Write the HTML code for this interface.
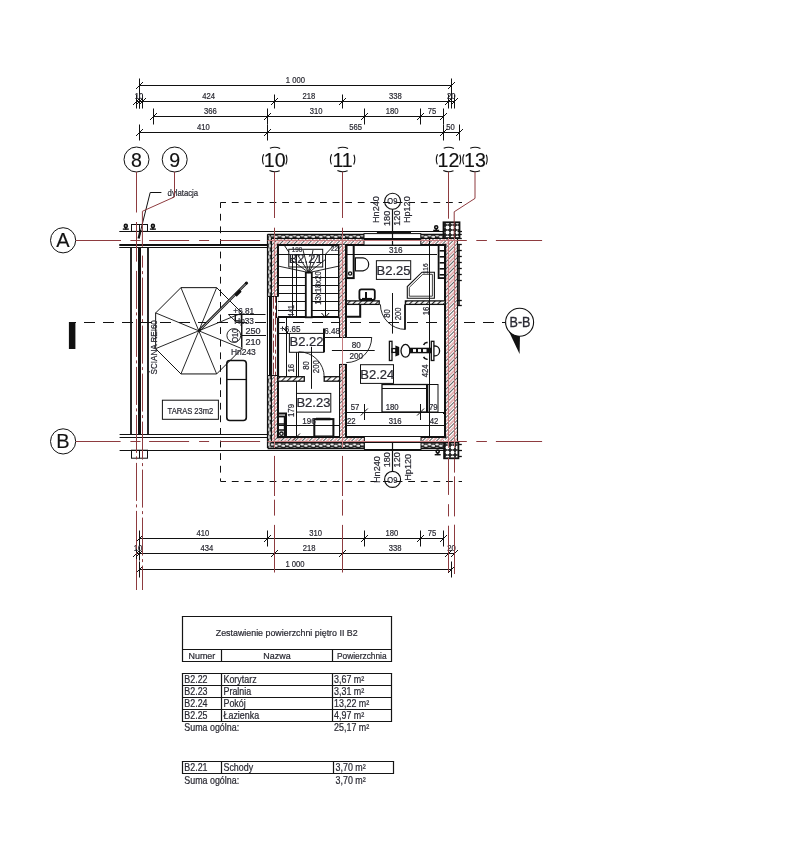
<!DOCTYPE html>
<html><head><meta charset="utf-8"><style>
html,body{margin:0;padding:0;background:#fff;width:804px;height:858px;overflow:hidden}
svg{display:block;font-family:"Liberation Sans",sans-serif;will-change:transform}
</style></head><body>
<svg width="804" height="858" viewBox="0 0 804 858">
<line x1="139.5" y1="85.5" x2="451.5" y2="85.5" stroke="#111" stroke-width="1" />
<line x1="139.5" y1="78.5" x2="139.5" y2="108.5" stroke="#111" stroke-width="1" />
<line x1="136.0" y1="89.0" x2="143.0" y2="82.0" stroke="#111" stroke-width="1" />
<line x1="451.5" y1="78.5" x2="451.5" y2="108.5" stroke="#111" stroke-width="1" />
<line x1="448.0" y1="89.0" x2="455.0" y2="82.0" stroke="#111" stroke-width="1" />
<text x="0" y="0" font-size="9" text-anchor="middle" fill="#2a2a33" stroke="#2a2a33" stroke-width="0.22" transform="translate(295.4 83.1) scale(0.85 1)" >1 000</text>
<line x1="136.5" y1="101.5" x2="454.5" y2="101.5" stroke="#111" stroke-width="1" />
<line x1="136.5" y1="94.5" x2="136.5" y2="108.5" stroke="#111" stroke-width="1" />
<line x1="133.0" y1="105.0" x2="140.0" y2="98.0" stroke="#111" stroke-width="1" />
<line x1="139.5" y1="94.5" x2="139.5" y2="108.5" stroke="#111" stroke-width="1" />
<line x1="136.0" y1="105.0" x2="143.0" y2="98.0" stroke="#111" stroke-width="1" />
<line x1="142.5" y1="94.5" x2="142.5" y2="108.5" stroke="#111" stroke-width="1" />
<line x1="139.0" y1="105.0" x2="146.0" y2="98.0" stroke="#111" stroke-width="1" />
<line x1="274.5" y1="94.5" x2="274.5" y2="108.5" stroke="#111" stroke-width="1" />
<line x1="271.0" y1="105.0" x2="278.0" y2="98.0" stroke="#111" stroke-width="1" />
<line x1="342.5" y1="94.5" x2="342.5" y2="108.5" stroke="#111" stroke-width="1" />
<line x1="339.0" y1="105.0" x2="346.0" y2="98.0" stroke="#111" stroke-width="1" />
<line x1="448.5" y1="94.5" x2="448.5" y2="108.5" stroke="#111" stroke-width="1" />
<line x1="445.0" y1="105.0" x2="452.0" y2="98.0" stroke="#111" stroke-width="1" />
<line x1="454.5" y1="94.5" x2="454.5" y2="108.5" stroke="#111" stroke-width="1" />
<line x1="451.0" y1="105.0" x2="458.0" y2="98.0" stroke="#111" stroke-width="1" />
<text x="0" y="0" font-size="9" text-anchor="middle" fill="#2a2a33" stroke="#2a2a33" stroke-width="0.22" transform="translate(139 99.1) scale(0.85 1)" >10</text>
<text x="0" y="0" font-size="9" text-anchor="middle" fill="#2a2a33" stroke="#2a2a33" stroke-width="0.22" transform="translate(208.6 99.1) scale(0.85 1)" >424</text>
<text x="0" y="0" font-size="9" text-anchor="middle" fill="#2a2a33" stroke="#2a2a33" stroke-width="0.22" transform="translate(308.9 99.1) scale(0.85 1)" >218</text>
<text x="0" y="0" font-size="9" text-anchor="middle" fill="#2a2a33" stroke="#2a2a33" stroke-width="0.22" transform="translate(395.3 99.1) scale(0.85 1)" >338</text>
<text x="0" y="0" font-size="9" text-anchor="middle" fill="#2a2a33" stroke="#2a2a33" stroke-width="0.22" transform="translate(451.3 99.1) scale(0.85 1)" >20</text>
<line x1="153.5" y1="116.5" x2="443.5" y2="116.5" stroke="#111" stroke-width="1" />
<line x1="153.5" y1="108.5" x2="153.5" y2="124.5" stroke="#111" stroke-width="1" />
<line x1="150.0" y1="120.0" x2="157.0" y2="113.0" stroke="#111" stroke-width="1" />
<line x1="267.5" y1="108.5" x2="267.5" y2="124.5" stroke="#111" stroke-width="1" />
<line x1="264.0" y1="120.0" x2="271.0" y2="113.0" stroke="#111" stroke-width="1" />
<line x1="364.5" y1="108.5" x2="364.5" y2="124.5" stroke="#111" stroke-width="1" />
<line x1="361.0" y1="120.0" x2="368.0" y2="113.0" stroke="#111" stroke-width="1" />
<line x1="420.5" y1="108.5" x2="420.5" y2="124.5" stroke="#111" stroke-width="1" />
<line x1="417.0" y1="120.0" x2="424.0" y2="113.0" stroke="#111" stroke-width="1" />
<line x1="443.5" y1="108.5" x2="443.5" y2="124.5" stroke="#111" stroke-width="1" />
<line x1="440.0" y1="120.0" x2="447.0" y2="113.0" stroke="#111" stroke-width="1" />
<text x="0" y="0" font-size="9" text-anchor="middle" fill="#2a2a33" stroke="#2a2a33" stroke-width="0.22" transform="translate(210.4 114.1) scale(0.85 1)" >366</text>
<text x="0" y="0" font-size="9" text-anchor="middle" fill="#2a2a33" stroke="#2a2a33" stroke-width="0.22" transform="translate(316 114.1) scale(0.85 1)" >310</text>
<text x="0" y="0" font-size="9" text-anchor="middle" fill="#2a2a33" stroke="#2a2a33" stroke-width="0.22" transform="translate(392 114.1) scale(0.85 1)" >180</text>
<text x="0" y="0" font-size="9" text-anchor="middle" fill="#2a2a33" stroke="#2a2a33" stroke-width="0.22" transform="translate(432 114.1) scale(0.85 1)" >75</text>
<line x1="139.5" y1="132.5" x2="459.5" y2="132.5" stroke="#111" stroke-width="1" />
<line x1="139.5" y1="124.5" x2="139.5" y2="140.5" stroke="#111" stroke-width="1" />
<line x1="136.0" y1="136.0" x2="143.0" y2="129.0" stroke="#111" stroke-width="1" />
<line x1="267.5" y1="124.5" x2="267.5" y2="140.5" stroke="#111" stroke-width="1" />
<line x1="264.0" y1="136.0" x2="271.0" y2="129.0" stroke="#111" stroke-width="1" />
<line x1="443.5" y1="124.5" x2="443.5" y2="140.5" stroke="#111" stroke-width="1" />
<line x1="440.0" y1="136.0" x2="447.0" y2="129.0" stroke="#111" stroke-width="1" />
<line x1="459.5" y1="124.5" x2="459.5" y2="140.5" stroke="#111" stroke-width="1" />
<line x1="456.0" y1="136.0" x2="463.0" y2="129.0" stroke="#111" stroke-width="1" />
<text x="0" y="0" font-size="9" text-anchor="middle" fill="#2a2a33" stroke="#2a2a33" stroke-width="0.22" transform="translate(203.4 130.1) scale(0.85 1)" >410</text>
<text x="0" y="0" font-size="9" text-anchor="middle" fill="#2a2a33" stroke="#2a2a33" stroke-width="0.22" transform="translate(355.5 130.1) scale(0.85 1)" >565</text>
<text x="0" y="0" font-size="9" text-anchor="middle" fill="#2a2a33" stroke="#2a2a33" stroke-width="0.22" transform="translate(450.4 130.1) scale(0.85 1)" >50</text>
<line x1="139.5" y1="538.5" x2="443.5" y2="538.5" stroke="#111" stroke-width="1" />
<line x1="139.5" y1="530.5" x2="139.5" y2="546.5" stroke="#111" stroke-width="1" />
<line x1="136.0" y1="542.0" x2="143.0" y2="535.0" stroke="#111" stroke-width="1" />
<line x1="267.5" y1="530.5" x2="267.5" y2="546.5" stroke="#111" stroke-width="1" />
<line x1="264.0" y1="542.0" x2="271.0" y2="535.0" stroke="#111" stroke-width="1" />
<line x1="364.5" y1="530.5" x2="364.5" y2="546.5" stroke="#111" stroke-width="1" />
<line x1="361.0" y1="542.0" x2="368.0" y2="535.0" stroke="#111" stroke-width="1" />
<line x1="420.5" y1="530.5" x2="420.5" y2="546.5" stroke="#111" stroke-width="1" />
<line x1="417.0" y1="542.0" x2="424.0" y2="535.0" stroke="#111" stroke-width="1" />
<line x1="443.5" y1="530.5" x2="443.5" y2="546.5" stroke="#111" stroke-width="1" />
<line x1="440.0" y1="542.0" x2="447.0" y2="535.0" stroke="#111" stroke-width="1" />
<text x="0" y="0" font-size="9" text-anchor="middle" fill="#2a2a33" stroke="#2a2a33" stroke-width="0.22" transform="translate(202.8 536.1) scale(0.85 1)" >410</text>
<text x="0" y="0" font-size="9" text-anchor="middle" fill="#2a2a33" stroke="#2a2a33" stroke-width="0.22" transform="translate(315.7 536.1) scale(0.85 1)" >310</text>
<text x="0" y="0" font-size="9" text-anchor="middle" fill="#2a2a33" stroke="#2a2a33" stroke-width="0.22" transform="translate(391.8 536.1) scale(0.85 1)" >180</text>
<text x="0" y="0" font-size="9" text-anchor="middle" fill="#2a2a33" stroke="#2a2a33" stroke-width="0.22" transform="translate(432.1 536.1) scale(0.85 1)" >75</text>
<line x1="136.5" y1="553.5" x2="454.5" y2="553.5" stroke="#111" stroke-width="1" />
<line x1="136.5" y1="546.5" x2="136.5" y2="560.5" stroke="#111" stroke-width="1" />
<line x1="133.0" y1="557.0" x2="140.0" y2="550.0" stroke="#111" stroke-width="1" />
<line x1="139.5" y1="546.5" x2="139.5" y2="560.5" stroke="#111" stroke-width="1" />
<line x1="136.0" y1="557.0" x2="143.0" y2="550.0" stroke="#111" stroke-width="1" />
<line x1="274.5" y1="546.5" x2="274.5" y2="560.5" stroke="#111" stroke-width="1" />
<line x1="271.0" y1="557.0" x2="278.0" y2="550.0" stroke="#111" stroke-width="1" />
<line x1="342.5" y1="546.5" x2="342.5" y2="560.5" stroke="#111" stroke-width="1" />
<line x1="339.0" y1="557.0" x2="346.0" y2="550.0" stroke="#111" stroke-width="1" />
<line x1="448.5" y1="546.5" x2="448.5" y2="560.5" stroke="#111" stroke-width="1" />
<line x1="445.0" y1="557.0" x2="452.0" y2="550.0" stroke="#111" stroke-width="1" />
<line x1="454.5" y1="546.5" x2="454.5" y2="560.5" stroke="#111" stroke-width="1" />
<line x1="451.0" y1="557.0" x2="458.0" y2="550.0" stroke="#111" stroke-width="1" />
<text x="0" y="0" font-size="9" text-anchor="middle" fill="#2a2a33" stroke="#2a2a33" stroke-width="0.22" transform="translate(138 551.1) scale(0.85 1)" >10</text>
<text x="0" y="0" font-size="9" text-anchor="middle" fill="#2a2a33" stroke="#2a2a33" stroke-width="0.22" transform="translate(206.9 551.1) scale(0.85 1)" >434</text>
<text x="0" y="0" font-size="9" text-anchor="middle" fill="#2a2a33" stroke="#2a2a33" stroke-width="0.22" transform="translate(309 551.1) scale(0.85 1)" >218</text>
<text x="0" y="0" font-size="9" text-anchor="middle" fill="#2a2a33" stroke="#2a2a33" stroke-width="0.22" transform="translate(395.1 551.1) scale(0.85 1)" >338</text>
<text x="0" y="0" font-size="9" text-anchor="middle" fill="#2a2a33" stroke="#2a2a33" stroke-width="0.22" transform="translate(451.5 551.1) scale(0.85 1)" >20</text>
<line x1="139.5" y1="569.5" x2="451.5" y2="569.5" stroke="#111" stroke-width="1" />
<line x1="139.5" y1="561.5" x2="139.5" y2="577.5" stroke="#111" stroke-width="1" />
<line x1="136.0" y1="573.0" x2="143.0" y2="566.0" stroke="#111" stroke-width="1" />
<line x1="451.5" y1="561.5" x2="451.5" y2="577.5" stroke="#111" stroke-width="1" />
<line x1="448.0" y1="573.0" x2="455.0" y2="566.0" stroke="#111" stroke-width="1" />
<text x="0" y="0" font-size="9" text-anchor="middle" fill="#2a2a33" stroke="#2a2a33" stroke-width="0.22" transform="translate(295 567.1) scale(0.85 1)" >1 000</text>
<circle cx="136.5" cy="159.5" r="12.5" stroke="#111" stroke-width="1.0" fill="none"/>
<text x="136.5" y="166.9" font-size="19.6" text-anchor="middle" fill="#111" stroke="#111" stroke-width="0.15" >8</text>
<circle cx="174.7" cy="159.5" r="12.5" stroke="#111" stroke-width="1.0" fill="none"/>
<text x="174.7" y="166.9" font-size="19.6" text-anchor="middle" fill="#111" stroke="#111" stroke-width="0.15" >9</text>
<circle cx="274.7" cy="159.5" r="12.2" stroke="#111" stroke-width="1.1" fill="none" stroke-dasharray="10.5 8.66" stroke-dashoffset="5.25"/>
<text x="274.7" y="166.9" font-size="19.6" text-anchor="middle" fill="#111" stroke="#111" stroke-width="0.15" >10</text>
<circle cx="342.6" cy="159.5" r="12.2" stroke="#111" stroke-width="1.1" fill="none" stroke-dasharray="10.5 8.66" stroke-dashoffset="5.25"/>
<text x="342.6" y="166.9" font-size="19.6" text-anchor="middle" fill="#111" stroke="#111" stroke-width="0.15" >11</text>
<circle cx="448.5" cy="159.5" r="12.2" stroke="#111" stroke-width="1.1" fill="none" stroke-dasharray="10.5 8.66" stroke-dashoffset="5.25"/>
<text x="448.5" y="166.9" font-size="19.6" text-anchor="middle" fill="#111" stroke="#111" stroke-width="0.15" >12</text>
<circle cx="475" cy="159.5" r="12.2" stroke="#111" stroke-width="1.1" fill="none" stroke-dasharray="10.5 8.66" stroke-dashoffset="5.25"/>
<text x="475" y="166.9" font-size="19.6" text-anchor="middle" fill="#111" stroke="#111" stroke-width="0.15" >13</text>
<circle cx="63.1" cy="240.3" r="12.6" stroke="#111" stroke-width="1.0" fill="none"/>
<text x="63.0" y="246.9" font-size="20" text-anchor="middle" fill="#111" stroke="#111" stroke-width="0.15" >A</text>
<circle cx="63.1" cy="441.4" r="12.6" stroke="#111" stroke-width="1.0" fill="none"/>
<text x="63.0" y="448.0" font-size="20" text-anchor="middle" fill="#111" stroke="#111" stroke-width="0.15" >B</text>
<line x1="181.9" y1="616.5" x2="392.1" y2="616.5" stroke="#151515" stroke-width="1.2" />
<line x1="181.9" y1="661.5" x2="392.1" y2="661.5" stroke="#151515" stroke-width="1.2" />
<line x1="182.5" y1="616.5" x2="182.5" y2="661.3" stroke="#151515" stroke-width="1.2" />
<line x1="391.5" y1="616.5" x2="391.5" y2="661.3" stroke="#151515" stroke-width="1.2" />
<line x1="182.5" y1="649.5" x2="391.3" y2="649.5" stroke="#151515" stroke-width="1.2" />
<line x1="221.5" y1="649.3" x2="221.5" y2="661.3" stroke="#151515" stroke-width="1.2" />
<line x1="332.5" y1="649.3" x2="332.5" y2="661.3" stroke="#151515" stroke-width="1.2" />
<text x="0" y="0" font-size="9.3" text-anchor="middle" fill="#2a2a33" stroke="#2a2a33" stroke-width="0.22" transform="translate(286.7 636) scale(0.955 1)" >Zestawienie powierzchni piętro II B2</text>
<text x="0" y="0" font-size="9.6" text-anchor="middle" fill="#2a2a33" stroke="#2a2a33" stroke-width="0.22" transform="translate(201.9 659.4) scale(0.93 1)" >Numer</text>
<text x="0" y="0" font-size="9.6" text-anchor="middle" fill="#2a2a33" stroke="#2a2a33" stroke-width="0.22" transform="translate(277 659.4) scale(0.93 1)" >Nazwa</text>
<text x="0" y="0" font-size="9.6" text-anchor="middle" fill="#2a2a33" stroke="#2a2a33" stroke-width="0.22" transform="translate(361.8 659.4) scale(0.87 1)" >Powierzchnia</text>
<line x1="181.9" y1="673.5" x2="392.1" y2="673.5" stroke="#151515" stroke-width="1.2" />
<line x1="181.9" y1="721.5" x2="392.1" y2="721.5" stroke="#151515" stroke-width="1.2" />
<line x1="182.5" y1="673.4" x2="182.5" y2="721.2" stroke="#151515" stroke-width="1.2" />
<line x1="391.5" y1="673.4" x2="391.5" y2="721.2" stroke="#151515" stroke-width="1.2" />
<line x1="182.5" y1="685.5" x2="391.3" y2="685.5" stroke="#151515" stroke-width="1.2" />
<line x1="182.5" y1="697.5" x2="391.3" y2="697.5" stroke="#151515" stroke-width="1.2" />
<line x1="182.5" y1="709.5" x2="391.3" y2="709.5" stroke="#151515" stroke-width="1.2" />
<line x1="221.5" y1="673.4" x2="221.5" y2="721.2" stroke="#151515" stroke-width="1.2" />
<line x1="332.5" y1="673.4" x2="332.5" y2="721.2" stroke="#151515" stroke-width="1.2" />
<text x="0" y="0" font-size="10" text-anchor="start" fill="#2a2a33" stroke="#2a2a33" stroke-width="0.22" transform="translate(184.3 683.0) scale(0.89 1)" >B2.22</text>
<text x="0" y="0" font-size="10" text-anchor="start" fill="#2a2a33" stroke="#2a2a33" stroke-width="0.22" transform="translate(223.5 683.0) scale(0.89 1)" >Korytarz</text>
<text x="0" y="0" font-size="10" text-anchor="start" fill="#2a2a33" stroke="#2a2a33" stroke-width="0.22" transform="translate(334.1 683.0) scale(0.89 1)" >3,67 m²</text>
<text x="0" y="0" font-size="10" text-anchor="start" fill="#2a2a33" stroke="#2a2a33" stroke-width="0.22" transform="translate(184.3 694.9) scale(0.89 1)" >B2.23</text>
<text x="0" y="0" font-size="10" text-anchor="start" fill="#2a2a33" stroke="#2a2a33" stroke-width="0.22" transform="translate(223.5 694.9) scale(0.89 1)" >Pralnia</text>
<text x="0" y="0" font-size="10" text-anchor="start" fill="#2a2a33" stroke="#2a2a33" stroke-width="0.22" transform="translate(334.1 694.9) scale(0.89 1)" >3,31 m²</text>
<text x="0" y="0" font-size="10" text-anchor="start" fill="#2a2a33" stroke="#2a2a33" stroke-width="0.22" transform="translate(184.3 706.8000000000001) scale(0.89 1)" >B2.24</text>
<text x="0" y="0" font-size="10" text-anchor="start" fill="#2a2a33" stroke="#2a2a33" stroke-width="0.22" transform="translate(223.5 706.8000000000001) scale(0.89 1)" >Pokój</text>
<text x="0" y="0" font-size="10" text-anchor="start" fill="#2a2a33" stroke="#2a2a33" stroke-width="0.22" transform="translate(334.1 706.8000000000001) scale(0.89 1)" >13,22 m²</text>
<text x="0" y="0" font-size="10" text-anchor="start" fill="#2a2a33" stroke="#2a2a33" stroke-width="0.22" transform="translate(184.3 718.7) scale(0.89 1)" >B2.25</text>
<text x="0" y="0" font-size="10" text-anchor="start" fill="#2a2a33" stroke="#2a2a33" stroke-width="0.22" transform="translate(223.5 718.7) scale(0.89 1)" >Łazienka</text>
<text x="0" y="0" font-size="10" text-anchor="start" fill="#2a2a33" stroke="#2a2a33" stroke-width="0.22" transform="translate(334.1 718.7) scale(0.89 1)" >4,97 m²</text>
<text x="0" y="0" font-size="10" text-anchor="start" fill="#2a2a33" stroke="#2a2a33" stroke-width="0.22" transform="translate(184.3 730.5) scale(0.89 1)" >Suma ogólna:</text>
<text x="0" y="0" font-size="10" text-anchor="start" fill="#2a2a33" stroke="#2a2a33" stroke-width="0.22" transform="translate(334.1 730.5) scale(0.89 1)" >25,17 m²</text>
<line x1="181.9" y1="761.5" x2="394.1" y2="761.5" stroke="#151515" stroke-width="1.2" />
<line x1="181.9" y1="773.5" x2="394.1" y2="773.5" stroke="#151515" stroke-width="1.2" />
<line x1="182.5" y1="761.6" x2="182.5" y2="773.2" stroke="#151515" stroke-width="1.2" />
<line x1="393.5" y1="761.6" x2="393.5" y2="773.2" stroke="#151515" stroke-width="1.2" />
<line x1="221.5" y1="761.6" x2="221.5" y2="773.2" stroke="#151515" stroke-width="1.2" />
<line x1="333.5" y1="761.6" x2="333.5" y2="773.2" stroke="#151515" stroke-width="1.2" />
<text x="0" y="0" font-size="10" text-anchor="start" fill="#2a2a33" stroke="#2a2a33" stroke-width="0.22" transform="translate(184.3 771.2) scale(0.89 1)" >B2.21</text>
<text x="0" y="0" font-size="10" text-anchor="start" fill="#2a2a33" stroke="#2a2a33" stroke-width="0.22" transform="translate(223.5 771.2) scale(0.89 1)" >Schody</text>
<text x="0" y="0" font-size="10" text-anchor="start" fill="#2a2a33" stroke="#2a2a33" stroke-width="0.22" transform="translate(335.6 771.2) scale(0.89 1)" >3,70 m²</text>
<text x="0" y="0" font-size="10" text-anchor="start" fill="#2a2a33" stroke="#2a2a33" stroke-width="0.22" transform="translate(184.3 783.5) scale(0.89 1)" >Suma ogólna:</text>
<text x="0" y="0" font-size="10" text-anchor="start" fill="#2a2a33" stroke="#2a2a33" stroke-width="0.22" transform="translate(335.6 783.5) scale(0.89 1)" >3,70 m²</text>
<defs>
<pattern id="brick" patternUnits="userSpaceOnUse" width="5" height="5" patternTransform="rotate(45)">
<rect width="5" height="5" fill="#fff"/><rect x="0" y="0" width="1.0" height="5" fill="#222"/>
</pattern>
<pattern id="brickr" patternUnits="userSpaceOnUse" width="5" height="5" patternTransform="rotate(45)">
<rect width="5" height="5" fill="#fff"/><rect x="0" y="0" width="0.8" height="5" fill="#333"/><rect x="2.5" y="0" width="1.3" height="5" fill="#d08a8c"/>
</pattern>
<pattern id="brickb" patternUnits="userSpaceOnUse" width="4" height="4" patternTransform="rotate(45)">
<rect width="4" height="4" fill="#fff"/><rect x="0" y="0" width="1.1" height="4" fill="#222"/>
</pattern>
<pattern id="insH" patternUnits="userSpaceOnUse" width="7.5" height="3.8" y="234.3">
<rect width="7.5" height="3.8" fill="#1a1a1a"/><ellipse cx="2" cy="1.3" rx="1.9" ry="1.0" fill="#fff"/><ellipse cx="5.75" cy="2.5" rx="1.9" ry="1.0" fill="#fff"/>
</pattern>
<pattern id="insV" patternUnits="userSpaceOnUse" width="3.6" height="7.5" x="267.6">
<rect width="3.6" height="7.5" fill="#1a1a1a"/><ellipse cx="1.3" cy="2" rx="1.0" ry="1.9" fill="#fff"/><ellipse cx="2.3" cy="5.75" rx="1.0" ry="1.9" fill="#fff"/>
</pattern>
<pattern id="grav" patternUnits="userSpaceOnUse" width="5" height="5">
<rect width="5" height="5" fill="#222"/><circle cx="2.5" cy="2.5" r="1.9" fill="#fff"/>
</pattern>
</defs>
<line x1="220.5" y1="202.5" x2="462" y2="202.5" stroke="#111" stroke-width="1" stroke-dasharray="6.8 5.8" stroke-dashoffset="1.3"/>
<line x1="220.5" y1="202.5" x2="220.5" y2="481.3" stroke="#111" stroke-width="1" stroke-dasharray="6.8 5.8" stroke-dashoffset="1.3"/>
<line x1="220.5" y1="481.5" x2="462" y2="481.5" stroke="#111" stroke-width="1" stroke-dasharray="6.8 5.8" stroke-dashoffset="1.3"/>
<line x1="73" y1="322.5" x2="505" y2="322.5" stroke="#111" stroke-width="1" stroke-dasharray="11 8" stroke-dashoffset="8"/>
<rect x="68.9" y="322" width="6.5" height="27" fill="#111"/>
<line x1="119.3" y1="231.5" x2="462" y2="231.5" stroke="#111" stroke-width="1.1" />
<line x1="119.3" y1="245" x2="267.6" y2="245" stroke="#111" stroke-width="2" />
<line x1="119.3" y1="247.5" x2="267.6" y2="247.5" stroke="#111" stroke-width="1" />
<line x1="119.6" y1="434.5" x2="267.6" y2="434.5" stroke="#111" stroke-width="1.2" />
<line x1="119.6" y1="437.5" x2="267.6" y2="437.5" stroke="#111" stroke-width="1.2" />
<line x1="119.6" y1="450.5" x2="462" y2="450.5" stroke="#111" stroke-width="1.1" />
<line x1="131.0" y1="247" x2="131.0" y2="434.8" stroke="#111" stroke-width="1.8" />
<line x1="139.5" y1="247" x2="139.5" y2="434.8" stroke="#111" stroke-width="3" />
<line x1="148.0" y1="247" x2="148.0" y2="434.8" stroke="#111" stroke-width="1.8" />
<rect x="131.5" y="224.5" width="16" height="6.9" stroke="#111" stroke-width="1" fill="none"/>
<line x1="139.5" y1="224.5" x2="139.5" y2="231.4" stroke="#111" stroke-width="1" />
<rect x="131.5" y="450.2" width="16" height="8" stroke="#111" stroke-width="1" fill="none"/>
<line x1="139.5" y1="450.2" x2="139.5" y2="458.2" stroke="#111" stroke-width="1" />
<circle cx="125.8" cy="225.9" r="1.5" stroke="#111" stroke-width="1.6" fill="none"/>
<line x1="125.8" y1="227.4" x2="125.8" y2="229.5" stroke="#111" stroke-width="1.6" />
<line x1="122.8" y1="229.1" x2="128.8" y2="229.1" stroke="#111" stroke-width="1.4" />
<circle cx="152.9" cy="225.9" r="1.5" stroke="#111" stroke-width="1.6" fill="none"/>
<line x1="152.9" y1="227.4" x2="152.9" y2="229.5" stroke="#111" stroke-width="1.6" />
<line x1="149.9" y1="229.1" x2="155.9" y2="229.1" stroke="#111" stroke-width="1.4" />
<circle cx="436.2" cy="227.2" r="1.5" stroke="#111" stroke-width="1.6" fill="none"/>
<line x1="436.2" y1="228.7" x2="436.2" y2="230.79999999999998" stroke="#111" stroke-width="1.6" />
<line x1="433.2" y1="230.39999999999998" x2="439.2" y2="230.39999999999998" stroke="#111" stroke-width="1.4" />
<polyline points="161.4,192.5 150.2,192.5 138.8,238" stroke="#111" stroke-width="1" fill="none"/>
<line x1="140.6" y1="230" x2="138.6" y2="238.5" stroke="#111" stroke-width="2.2" />
<text x="0" y="0" font-size="8.8" text-anchor="start" fill="#2a2a33" stroke="#2a2a33" stroke-width="0.22" transform="translate(167.6 196) scale(0.88 1)" >dylatacja</text>
<polygon points="216.6713162914497,287.6548258317229 241.9451741682771,312.9286837085503 241.9451741682771,348.6713162914497 216.6713162914497,373.9451741682771 180.92868370855032,373.9451741682771 155.65482583172292,348.67131629144967 155.65482583172292,312.9286837085503 180.92868370855032,287.6548258317229" stroke="#111" stroke-width="1" fill="none"/>
<line x1="198.8" y1="330.8" x2="216.67" y2="287.65" stroke="#111" stroke-width="0.9" />
<line x1="198.8" y1="330.8" x2="241.95" y2="312.93" stroke="#111" stroke-width="0.9" />
<line x1="198.8" y1="330.8" x2="241.95" y2="348.67" stroke="#111" stroke-width="0.9" />
<line x1="198.8" y1="330.8" x2="216.67" y2="373.95" stroke="#111" stroke-width="0.9" />
<line x1="198.8" y1="330.8" x2="180.93" y2="373.95" stroke="#111" stroke-width="0.9" />
<line x1="198.8" y1="330.8" x2="155.65" y2="348.67" stroke="#111" stroke-width="0.9" />
<line x1="198.8" y1="330.8" x2="155.65" y2="312.93" stroke="#111" stroke-width="0.9" />
<line x1="198.8" y1="330.8" x2="180.93" y2="287.65" stroke="#111" stroke-width="0.9" />
<line x1="198.8" y1="330.8" x2="246.7" y2="282.9" stroke="#111" stroke-width="2.6" />
<line x1="200.8" y1="329.0" x2="246.2" y2="283.4" stroke="#fff" stroke-width="0.7" />
<circle cx="246.5" cy="283.1" r="1.2" stroke="#111" stroke-width="0.8" fill="#111"/>
<line x1="235.5" y1="295.5" x2="240.5" y2="290.5" stroke="#111" stroke-width="3.2" />
<text x="0" y="0" font-size="8.8" text-anchor="middle" fill="#2a2a33" stroke="#2a2a33" stroke-width="0.22" transform="translate(156.6 347.3) rotate(-90) scale(0.92 1)" >ŚCIANA REI60</text>
<rect x="162.4" y="400.2" width="56" height="19.1" stroke="#111" stroke-width="1" fill="none"/>
<text x="0" y="0" font-size="8.6" text-anchor="middle" fill="#2a2a33" stroke="#2a2a33" stroke-width="0.22" transform="translate(190.4 413.6) scale(0.88 1)" >TARAS 23m2</text>
<rect x="226.8" y="360.5" width="19.5" height="60" stroke="#111" stroke-width="1.6" fill="none" rx="3"/>
<line x1="226.8" y1="379.5" x2="246.3" y2="379.5" stroke="#111" stroke-width="1.2" />
<circle cx="233.8" cy="335.5" r="6.9" stroke="#111" stroke-width="0.9" fill="none"/>
<text x="0" y="0" font-size="8.8" text-anchor="middle" fill="#2a2a33" stroke="#2a2a33" stroke-width="0.22" transform="translate(238.4 335.8) rotate(-90) scale(0.85 1)" >O10</text>
<text x="0" y="0" font-size="9.4" text-anchor="start" fill="#2a2a33" stroke="#2a2a33" stroke-width="0.22" transform="translate(233.3 313.6) scale(0.88 1)" >+6.81</text>
<text x="0" y="0" font-size="9.4" text-anchor="start" fill="#2a2a33" stroke="#2a2a33" stroke-width="0.22" transform="translate(234.2 324.0) scale(0.88 1)" >Hp33</text>
<text x="0" y="0" font-size="9.6" text-anchor="start" fill="#2a2a33" stroke="#2a2a33" stroke-width="0.22" transform="translate(245.4 334.0) scale(0.95 1)" >250</text>
<text x="0" y="0" font-size="9.6" text-anchor="start" fill="#2a2a33" stroke="#2a2a33" stroke-width="0.22" transform="translate(245.4 345.2) scale(0.95 1)" >210</text>
<text x="0" y="0" font-size="9.4" text-anchor="start" fill="#2a2a33" stroke="#2a2a33" stroke-width="0.22" transform="translate(230.9 355.0) scale(0.9 1)" >Hn243</text>
<line x1="228.4" y1="314.5" x2="265.5" y2="314.5" stroke="#111" stroke-width="1" />
<line x1="242" y1="335.5" x2="266" y2="335.5" stroke="#111" stroke-width="1" />
<line x1="241.5" y1="314.2" x2="241.5" y2="347" stroke="#111" stroke-width="0.9" />
<polyline points="228.4,314.6 235.3,321.1 235.3,314.6" stroke="#111" stroke-width="0.9" fill="none"/>
<rect x="235.3" y="314.6" width="6" height="6.5" stroke="#111" stroke-width="1" fill="none"/>
<rect x="267.6" y="234.3" width="175.89999999999998" height="3.799999999999983" fill="url(#insH)"/>
<rect x="267.6" y="442.6" width="176.39999999999998" height="5.399999999999977" fill="url(#insH)"/>
<rect x="267.6" y="234.3" width="3.599999999999966" height="213.7" fill="url(#insV)"/>
<rect x="271.2" y="238.1" width="186.40000000000003" height="6.599999999999994" fill="url(#brickr)"/>
<rect x="271.2" y="437.2" width="172.8" height="5.400000000000034" fill="url(#brickr)"/>
<rect x="271.2" y="238.1" width="6.699999999999989" height="204.50000000000003" fill="url(#brickr)"/>
<rect x="445.3" y="238.1" width="12.300000000000011" height="204.50000000000003" fill="url(#brickr)"/>
<line x1="267.6" y1="234.5" x2="443.5" y2="234.5" stroke="#111" stroke-width="1.3" />
<line x1="267.5" y1="234.3" x2="267.5" y2="448.0" stroke="#111" stroke-width="1.2" />
<line x1="267.6" y1="448.5" x2="444" y2="448.5" stroke="#111" stroke-width="1.3" />
<line x1="271.2" y1="238.5" x2="443.5" y2="238.5" stroke="#111" stroke-width="1.0" />
<line x1="271.2" y1="442.5" x2="444" y2="442.5" stroke="#111" stroke-width="1.0" />
<line x1="271.5" y1="238.1" x2="271.5" y2="442.6" stroke="#111" stroke-width="1.0" />
<line x1="457.5" y1="238.1" x2="457.5" y2="442.6" stroke="#111" stroke-width="1.1" />
<line x1="276.9" y1="245.0" x2="446.3" y2="245.0" stroke="#111" stroke-width="2" />
<line x1="276.9" y1="437.0" x2="446.3" y2="437.0" stroke="#111" stroke-width="2" />
<line x1="278.0" y1="243.7" x2="278.0" y2="438.2" stroke="#111" stroke-width="2" />
<line x1="445.0" y1="243.7" x2="445.0" y2="438.2" stroke="#111" stroke-width="2" />
<rect x="443.5" y="222.3" width="16" height="15.8" fill="url(#grav)"/>
<rect x="443.5" y="222.3" width="16" height="15.8" stroke="#111" stroke-width="1.8" fill="none"/>
<rect x="444.1" y="442.6" width="14.3" height="15.7" fill="url(#grav)"/>
<rect x="444.1" y="442.6" width="14.3" height="15.7" stroke="#111" stroke-width="1.8" fill="none"/>
<line x1="457.6" y1="231.5" x2="461.8" y2="231.5" stroke="#111" stroke-width="1.3" />
<line x1="457.6" y1="234.5" x2="461.8" y2="234.5" stroke="#111" stroke-width="1.3" />
<line x1="457.6" y1="238.5" x2="461.8" y2="238.5" stroke="#111" stroke-width="1.3" />
<line x1="457.6" y1="244.5" x2="461.8" y2="244.5" stroke="#111" stroke-width="1.3" />
<line x1="457.6" y1="250.5" x2="461.8" y2="250.5" stroke="#111" stroke-width="1.3" />
<line x1="457.6" y1="256.5" x2="461.8" y2="256.5" stroke="#111" stroke-width="1.3" />
<line x1="457.6" y1="262.5" x2="461.8" y2="262.5" stroke="#111" stroke-width="1.3" />
<line x1="457.6" y1="268.5" x2="461.8" y2="268.5" stroke="#111" stroke-width="1.3" />
<line x1="457.6" y1="274.5" x2="461.8" y2="274.5" stroke="#111" stroke-width="1.3" />
<line x1="457.6" y1="280.5" x2="461.8" y2="280.5" stroke="#111" stroke-width="1.3" />
<line x1="457.6" y1="300.5" x2="461.8" y2="300.5" stroke="#111" stroke-width="1.3" />
<line x1="457.6" y1="305.5" x2="461.8" y2="305.5" stroke="#111" stroke-width="1.3" />
<line x1="459.0" y1="244" x2="459.0" y2="306" stroke="#111" stroke-width="1.6" />
<rect x="364" y="233.6" width="56.8" height="11.4" fill="#fff"/>
<rect x="364" y="233.6" width="56.8" height="11.4" stroke="#111" stroke-width="1" fill="none"/>
<line x1="364" y1="239.0" x2="420.8" y2="239.0" stroke="#111" stroke-width="2.2" />
<line x1="376.9" y1="232.5" x2="411" y2="232.5" stroke="#111" stroke-width="1" />
<rect x="364.4" y="436.5" width="56.6" height="13" fill="#fff"/>
<rect x="364.4" y="436.5" width="56.6" height="13" stroke="#111" stroke-width="1" fill="none"/>
<line x1="364.4" y1="442.0" x2="421" y2="442.0" stroke="#111" stroke-width="2.2" />
<rect x="267.1" y="296.7" width="11.799999999999955" height="79.10000000000002" fill="#fff"/>
<line x1="267.5" y1="296.7" x2="267.5" y2="375.8" stroke="#111" stroke-width="1" />
<line x1="269.5" y1="296.7" x2="269.5" y2="375.8" stroke="#111" stroke-width="1" />
<line x1="271.0" y1="296.7" x2="271.0" y2="375.8" stroke="#111" stroke-width="2.3" />
<line x1="273.5" y1="296.7" x2="273.5" y2="375.8" stroke="#8e3b3f" stroke-width="1" stroke-dasharray="12 3 4 3" />
<line x1="275.5" y1="296.7" x2="275.5" y2="375.8" stroke="#8e3b3f" stroke-width="1" stroke-dasharray="12 3 4 3" stroke-dashoffset="6"/>
<line x1="276.5" y1="296.7" x2="276.5" y2="318" stroke="#111" stroke-width="1" />
<line x1="267.6" y1="296.5" x2="277.9" y2="296.5" stroke="#111" stroke-width="1" />
<line x1="267.6" y1="375.5" x2="277.9" y2="375.5" stroke="#111" stroke-width="1" />
<line x1="278.0" y1="317.5" x2="278.0" y2="376.2" stroke="#111" stroke-width="2.2" />
<line x1="277.9" y1="317.0" x2="339.4" y2="317.0" stroke="#111" stroke-width="2" />
<line x1="339.0" y1="244.7" x2="339.0" y2="318.3" stroke="#111" stroke-width="2" />
<rect x="339.4" y="244.7" width="6.9" height="92.5" fill="url(#brickr)"/>
<line x1="346.0" y1="244.7" x2="346.0" y2="337.2" stroke="#111" stroke-width="2" />
<line x1="323" y1="337.5" x2="346.3" y2="337.5" stroke="#111" stroke-width="1" />
<rect x="339.7" y="364" width="6.6" height="73.19999999999999" fill="url(#brickr)"/>
<line x1="339.5" y1="364" x2="339.5" y2="437.2" stroke="#111" stroke-width="1" />
<line x1="346.0" y1="364" x2="346.0" y2="437.2" stroke="#111" stroke-width="2" />
<line x1="339.7" y1="364.5" x2="346.3" y2="364.5" stroke="#111" stroke-width="1.2" />
<line x1="339.5" y1="317.3" x2="339.5" y2="337.2" stroke="#111" stroke-width="1" />
<rect x="346.3" y="300.9" width="32.89999999999998" height="3.5" fill="url(#brickb)"/>
<rect x="346.3" y="300.9" width="32.89999999999998" height="3.5" stroke="#111" stroke-width="1.3" fill="none"/>
<rect x="405.4" y="300.9" width="39.900000000000034" height="3.5" fill="url(#brickb)"/>
<rect x="405.4" y="300.9" width="39.900000000000034" height="3.5" stroke="#111" stroke-width="1.3" fill="none"/>
<polyline points="346.3,316.8 360.2,316.8 360.2,304.4" stroke="#111" stroke-width="2" fill="none"/>
<rect x="277.9" y="376.7" width="26.400000000000034" height="4.5" fill="url(#brickb)"/>
<rect x="277.9" y="376.7" width="26.400000000000034" height="4.5" stroke="#111" stroke-width="1.3" fill="none"/>
<rect x="324.2" y="376.7" width="15.5" height="4.5" fill="url(#brickb)"/>
<rect x="324.2" y="376.7" width="15.5" height="4.5" stroke="#111" stroke-width="1.3" fill="none"/>
<line x1="277.9" y1="277.5" x2="305.8" y2="277.5" stroke="#111" stroke-width="1" />
<line x1="311.8" y1="277.5" x2="339.4" y2="277.5" stroke="#111" stroke-width="1" />
<line x1="277.9" y1="285.5" x2="305.8" y2="285.5" stroke="#111" stroke-width="1" />
<line x1="311.8" y1="285.5" x2="339.4" y2="285.5" stroke="#111" stroke-width="1" />
<line x1="277.9" y1="293.5" x2="305.8" y2="293.5" stroke="#111" stroke-width="1" />
<line x1="311.8" y1="293.5" x2="339.4" y2="293.5" stroke="#111" stroke-width="1" />
<line x1="277.9" y1="301.5" x2="305.8" y2="301.5" stroke="#111" stroke-width="1" />
<line x1="311.8" y1="301.5" x2="339.4" y2="301.5" stroke="#111" stroke-width="1" />
<line x1="277.9" y1="310.5" x2="305.8" y2="310.5" stroke="#111" stroke-width="1" />
<line x1="311.8" y1="310.5" x2="339.4" y2="310.5" stroke="#111" stroke-width="1" />
<rect x="305.8" y="272.6" width="6" height="44.7" stroke="#111" stroke-width="1.8" fill="#fff"/>
<line x1="292.5" y1="254.4" x2="292.5" y2="317.3" stroke="#111" stroke-width="1" />
<line x1="296.5" y1="254.4" x2="296.5" y2="317.3" stroke="#111" stroke-width="1" />
<line x1="325.5" y1="254.4" x2="325.5" y2="317.3" stroke="#111" stroke-width="1" />
<line x1="277.9" y1="254.5" x2="339.4" y2="254.5" stroke="#111" stroke-width="1" />
<line x1="308.8" y1="272.6" x2="277.9" y2="266" stroke="#111" stroke-width="0.9" />
<line x1="308.8" y1="272.6" x2="290" y2="259" stroke="#111" stroke-width="0.9" />
<line x1="308.8" y1="272.6" x2="297" y2="254" stroke="#111" stroke-width="0.9" />
<line x1="308.8" y1="272.6" x2="303" y2="250" stroke="#111" stroke-width="0.9" />
<line x1="308.8" y1="272.6" x2="313" y2="250" stroke="#111" stroke-width="0.9" />
<line x1="308.8" y1="272.6" x2="319" y2="254" stroke="#111" stroke-width="0.9" />
<line x1="308.8" y1="272.6" x2="326" y2="259" stroke="#111" stroke-width="0.9" />
<line x1="308.8" y1="272.6" x2="339.4" y2="266" stroke="#111" stroke-width="0.9" />
<line x1="283.9" y1="244.7" x2="288.8" y2="252" stroke="#111" stroke-width="1" />
<line x1="334.6" y1="244.7" x2="325.3" y2="254.4" stroke="#111" stroke-width="1" />
<rect x="288.8" y="249.3" width="33.9" height="17.7" fill="none"/>
<rect x="288.8" y="249.3" width="33.9" height="17.7" stroke="#111" stroke-width="1" fill="none"/>
<text x="305.7" y="263.3" font-size="13" text-anchor="middle" fill="#2a2a33" stroke="#2a2a33" stroke-width="0.22" >B2.21</text>
<text x="0" y="0" font-size="8.6" text-anchor="middle" fill="#2a2a33" stroke="#2a2a33" stroke-width="0.22" transform="translate(321.2 288) rotate(-90) scale(0.9 1)" >13x18x20</text>
<polyline points="321.5,313 325.3,317.3 329.1,313" stroke="#111" stroke-width="1" fill="none"/>
<text x="0" y="0" font-size="8.2" text-anchor="middle" fill="#2a2a33" stroke="#2a2a33" stroke-width="0.22" transform="translate(294 311) rotate(-90) scale(0.9 1)" >441</text>
<text x="0" y="0" font-size="7" text-anchor="middle" fill="#2a2a33" stroke="#2a2a33" stroke-width="0.22" transform="translate(297 251.5) scale(0.9 1)" >190</text>
<text x="0" y="0" font-size="7" text-anchor="middle" fill="#2a2a33" stroke="#2a2a33" stroke-width="0.22" transform="translate(334.5 251) scale(0.9 1)" >22</text>
<rect x="289.4" y="333.4" width="34.3" height="18.9" stroke="#111" stroke-width="1" fill="none"/>
<text x="306.5" y="346.4" font-size="13" text-anchor="middle" fill="#2a2a33" stroke="#2a2a33" stroke-width="0.22" >B2.22</text>
<line x1="277.9" y1="333.5" x2="289.4" y2="333.5" stroke="#111" stroke-width="1" />
<text x="0" y="0" font-size="9" text-anchor="middle" fill="#2a2a33" stroke="#2a2a33" stroke-width="0.22" transform="translate(290.2 332.2) scale(0.9 1)" >+6.65</text>
<line x1="282" y1="327" x2="288" y2="333" stroke="#111" stroke-width="1" />
<text x="0" y="0" font-size="9" text-anchor="start" fill="#2a2a33" stroke="#2a2a33" stroke-width="0.22" transform="translate(324.2 334.2) scale(0.9 1)" >6.48</text>
<line x1="324.0" y1="328.5" x2="324.0" y2="352.3" stroke="#111" stroke-width="2" />
<line x1="286.5" y1="317.3" x2="286.5" y2="376.7" stroke="#111" stroke-width="1" />
<line x1="296.5" y1="352.3" x2="296.5" y2="376.7" stroke="#111" stroke-width="1" />
<line x1="298.5" y1="351.8" x2="298.5" y2="377.2" stroke="#111" stroke-width="1" />
<path d="M298.9,351.8 A25.3,25.3 0 0 1 324.2,377.2" stroke="#111" stroke-width="0.9" fill="none"/>
<line x1="311.5" y1="346.8" x2="311.5" y2="388.6" stroke="#111" stroke-width="1" />
<text x="0" y="0" font-size="8.6" text-anchor="middle" fill="#2a2a33" stroke="#2a2a33" stroke-width="0.22" transform="translate(309.2 365.5) rotate(-90) scale(0.9 1)" >80</text>
<text x="0" y="0" font-size="8.6" text-anchor="middle" fill="#2a2a33" stroke="#2a2a33" stroke-width="0.22" transform="translate(319.3 366.7) rotate(-90) scale(0.9 1)" >200</text>
<text x="0" y="0" font-size="8.6" text-anchor="middle" fill="#2a2a33" stroke="#2a2a33" stroke-width="0.22" transform="translate(294.3 368.2) rotate(-90) scale(0.9 1)" >16</text>
<path d="M371.7,337.2 A25.4,25.4 0 0 1 346.3,362.6" stroke="#111" stroke-width="0.9" fill="none"/>
<line x1="346.3" y1="337.5" x2="371.7" y2="337.5" stroke="#111" stroke-width="1" />
<line x1="331.9" y1="350.5" x2="374.7" y2="350.5" stroke="#111" stroke-width="1" />
<text x="0" y="0" font-size="8.6" text-anchor="middle" fill="#2a2a33" stroke="#2a2a33" stroke-width="0.22" transform="translate(356.2 347.5) scale(0.95 1)" >80</text>
<text x="0" y="0" font-size="8.6" text-anchor="middle" fill="#2a2a33" stroke="#2a2a33" stroke-width="0.22" transform="translate(356.2 358.5) scale(0.95 1)" >200</text>
<rect x="296.5" y="393.4" width="34.3" height="18.7" stroke="#111" stroke-width="1" fill="none"/>
<text x="313.4" y="406.9" font-size="13" text-anchor="middle" fill="#2a2a33" stroke="#2a2a33" stroke-width="0.22" >B2.23</text>
<rect x="314.3" y="419.1" width="19.1" height="17.4" stroke="#111" stroke-width="2" fill="none"/>
<line x1="316" y1="419.0" x2="330.4" y2="419.0" stroke="#111" stroke-width="2.5" />
<polyline points="278.2,413.4 286,413.4 286,437.2" stroke="#111" stroke-width="2" fill="none"/>
<rect x="278" y="416.5" width="6.7" height="20.7" stroke="#111" stroke-width="1.8" fill="none"/>
<line x1="278" y1="424.0" x2="284.7" y2="424.0" stroke="#111" stroke-width="1.5" />
<line x1="278" y1="430.0" x2="284.7" y2="430.0" stroke="#111" stroke-width="1.5" />
<circle cx="281.4" cy="433.7" r="1.7" stroke="#111" stroke-width="1.4" fill="none"/>
<text x="0" y="0" font-size="8.6" text-anchor="middle" fill="#2a2a33" stroke="#2a2a33" stroke-width="0.22" transform="translate(294.4 410.5) rotate(-90) scale(0.9 1)" >179</text>
<text x="0" y="0" font-size="9" text-anchor="middle" fill="#2a2a33" stroke="#2a2a33" stroke-width="0.22" transform="translate(309.1 424.0) scale(0.9 1)" >196</text>
<line x1="277.9" y1="425.5" x2="339.7" y2="425.5" stroke="#111" stroke-width="1" />
<line x1="296.5" y1="381.2" x2="296.5" y2="437.2" stroke="#111" stroke-width="1" />
<line x1="311.5" y1="376" x2="311.5" y2="388.6" stroke="#111" stroke-width="1" />
<line x1="296.5" y1="432" x2="296.5" y2="437" stroke="#111" stroke-width="1" />
<line x1="293.0" y1="440.5" x2="300.0" y2="433.5" stroke="#111" stroke-width="1" />
<line x1="346.3" y1="254.5" x2="437" y2="254.5" stroke="#111" stroke-width="1" />
<text x="0" y="0" font-size="8.6" text-anchor="middle" fill="#2a2a33" stroke="#2a2a33" stroke-width="0.22" transform="translate(395.8 252.5) scale(0.95 1)" >316</text>
<rect x="376.4" y="260.7" width="34.3" height="18.7" stroke="#111" stroke-width="1" fill="none"/>
<text x="393.6" y="274.8" font-size="13" text-anchor="middle" fill="#2a2a33" stroke="#2a2a33" stroke-width="0.22" >B2.25</text>
<rect x="346.5" y="245" width="7.2" height="33.1" stroke="#111" stroke-width="2" fill="none"/>
<circle cx="350.1" cy="273.5" r="1.6" stroke="#111" stroke-width="1.3" fill="none"/>
<path d="M355.4,257.9 L363,257.9 A6.5,6.5 0 0 1 363,270.8 L355.4,270.8 Z" stroke="#111" stroke-width="1.2" fill="none"/>
<rect x="438.6" y="245" width="6.7" height="33.1" stroke="#111" stroke-width="1.8" fill="none"/>
<rect x="439.6" y="250" width="4.7" height="1.6" fill="#111"/>
<rect x="439.6" y="256" width="4.7" height="1.6" fill="#111"/>
<rect x="439.6" y="262" width="4.7" height="1.6" fill="#111"/>
<rect x="439.6" y="268" width="4.7" height="1.6" fill="#111"/>
<rect x="439.6" y="274" width="4.7" height="1.6" fill="#111"/>
<polygon points="422,272.2 434.4,272.2 434.4,298.2 407.3,298.2 407.3,286.6" stroke="#111" stroke-width="1.1" fill="none"/>
<polygon points="422.8,274.3 432.4,274.3 432.4,296.2 409.3,296.2 409.3,287.4" stroke="#111" stroke-width="0.8" fill="none"/>
<text x="0" y="0" font-size="7.4" text-anchor="middle" fill="#2a2a33" stroke="#2a2a33" stroke-width="0.22" transform="translate(427.6 268.6) rotate(-90) scale(0.9 1)" >116</text>
<line x1="429.5" y1="238" x2="429.5" y2="437.2" stroke="#111" stroke-width="1" />
<rect x="359.4" y="289.4" width="15.4" height="10.6" stroke="#111" stroke-width="1.8" fill="none" rx="2"/>
<line x1="366.0" y1="292" x2="366.0" y2="298" stroke="#111" stroke-width="2" />
<line x1="362" y1="298.5" x2="372" y2="298.5" stroke="#111" stroke-width="1.2" />
<path d="M380.4,304.4 A25,25 0 0 0 405.4,329.4" stroke="#111" stroke-width="0.9" fill="none"/>
<line x1="405.0" y1="304.4" x2="405.0" y2="329.4" stroke="#111" stroke-width="1.8" />
<line x1="392.5" y1="293" x2="392.5" y2="333.6" stroke="#111" stroke-width="1" />
<text x="0" y="0" font-size="8.6" text-anchor="middle" fill="#2a2a33" stroke="#2a2a33" stroke-width="0.22" transform="translate(389.6 313.4) rotate(-90) scale(0.9 1)" >80</text>
<text x="0" y="0" font-size="8.6" text-anchor="middle" fill="#2a2a33" stroke="#2a2a33" stroke-width="0.22" transform="translate(401.3 313.9) rotate(-90) scale(0.9 1)" >200</text>
<text x="0" y="0" font-size="8.6" text-anchor="middle" fill="#2a2a33" stroke="#2a2a33" stroke-width="0.22" transform="translate(428.8 310.9) rotate(-90) scale(0.9 1)" >16</text>
<rect x="360.5" y="364.7" width="33" height="18.7" stroke="#111" stroke-width="1" fill="none"/>
<text x="377.3" y="378.5" font-size="13" text-anchor="middle" fill="#2a2a33" stroke="#2a2a33" stroke-width="0.22" >B2.24</text>
<text x="0" y="0" font-size="8.6" text-anchor="middle" fill="#2a2a33" stroke="#2a2a33" stroke-width="0.22" transform="translate(428.0 370.9) rotate(-90) scale(0.9 1)" >424</text>
<rect x="382" y="384.5" width="45.7" height="27.5" stroke="#111" stroke-width="1.3" fill="none"/>
<line x1="382" y1="388.5" x2="427.7" y2="388.5" stroke="#111" stroke-width="1" />
<rect x="426.8" y="384.5" width="11.2" height="27.5" stroke="#111" stroke-width="1" fill="none"/>
<line x1="427.0" y1="384.5" x2="427.0" y2="412" stroke="#111" stroke-width="2" />
<line x1="346.3" y1="412.5" x2="445.3" y2="412.5" stroke="#111" stroke-width="1" />
<line x1="346.3" y1="425.5" x2="445.3" y2="425.5" stroke="#111" stroke-width="1" />
<line x1="364.5" y1="404" x2="364.5" y2="420" stroke="#111" stroke-width="1" />
<line x1="360.8" y1="415.5" x2="367.8" y2="408.5" stroke="#111" stroke-width="1" />
<line x1="420.5" y1="404" x2="420.5" y2="420" stroke="#111" stroke-width="1" />
<line x1="417.1" y1="415.5" x2="424.1" y2="408.5" stroke="#111" stroke-width="1" />
<line x1="443" y1="414" x2="446.5" y2="410.5" stroke="#111" stroke-width="1" />
<line x1="436" y1="425.5" x2="446" y2="425.5" stroke="#111" stroke-width="1" />
<text x="0" y="0" font-size="8.6" text-anchor="middle" fill="#2a2a33" stroke="#2a2a33" stroke-width="0.22" transform="translate(355 410.3) scale(0.9 1)" >57</text>
<text x="0" y="0" font-size="8.6" text-anchor="middle" fill="#2a2a33" stroke="#2a2a33" stroke-width="0.22" transform="translate(392.2 410.3) scale(0.9 1)" >180</text>
<text x="0" y="0" font-size="8.6" text-anchor="middle" fill="#2a2a33" stroke="#2a2a33" stroke-width="0.22" transform="translate(433.3 410.3) scale(0.9 1)" >79</text>
<text x="0" y="0" font-size="8.6" text-anchor="middle" fill="#2a2a33" stroke="#2a2a33" stroke-width="0.22" transform="translate(351.2 423.9) scale(0.9 1)" >22</text>
<text x="0" y="0" font-size="8.6" text-anchor="middle" fill="#2a2a33" stroke="#2a2a33" stroke-width="0.22" transform="translate(395.2 423.9) scale(0.9 1)" >316</text>
<text x="0" y="0" font-size="8.6" text-anchor="middle" fill="#2a2a33" stroke="#2a2a33" stroke-width="0.22" transform="translate(434 423.9) scale(0.9 1)" >42</text>
<rect x="389.4" y="341.3" width="2.6" height="19.2" stroke="#111" stroke-width="1.3" fill="none"/>
<rect x="392" y="348.6" width="4" height="3.8" stroke="#111" stroke-width="1.3" fill="none"/>
<path d="M395.4,345.5 L399.2,347 L399.2,355 L395.4,356.4 Z" fill="#111"/>
<ellipse cx="405.5" cy="350.8" rx="4.5" ry="6.4" stroke="#111" stroke-width="1.3" fill="#fff"/>
<rect x="410" y="348.4" width="21.3" height="4.2" stroke="#111" stroke-width="1.4" fill="none"/>
<rect x="410" y="348.4" width="3" height="4.2" fill="#111"/>
<rect x="416" y="348.4" width="2" height="4.2" fill="#111"/>
<rect x="421" y="348.4" width="2" height="4.2" fill="#111"/>
<rect x="426.5" y="348.4" width="4.8" height="4.2" fill="#111"/>
<rect x="431.3" y="341.3" width="2.6" height="19.2" stroke="#111" stroke-width="1.3" fill="none"/>
<path d="M433.9,346 L435,346 A4.6,4.9 0 0 1 435,355.8 L433.9,355.8" stroke="#111" stroke-width="1.3" fill="none"/>
<path d="M423.6,345 Q425,342 427.6,342.6" stroke="#111" stroke-width="1.6" fill="none"/>
<path d="M423.6,356.8 Q425,359.8 427.6,359.2" stroke="#111" stroke-width="1.6" fill="none"/>
<circle cx="392.6" cy="201.2" r="8.0" stroke="#111" stroke-width="1.1" fill="none"/>
<text x="0" y="0" font-size="9.2" text-anchor="middle" fill="#2a2a33" stroke="#2a2a33" stroke-width="0.22" transform="translate(392.4 204.39999999999998) scale(0.82 1)" >O9</text>
<line x1="392.5" y1="209.2" x2="392.5" y2="245.8" stroke="#111" stroke-width="1.2" />
<circle cx="392.6" cy="479.4" r="8.0" stroke="#111" stroke-width="1.1" fill="none"/>
<text x="0" y="0" font-size="9.2" text-anchor="middle" fill="#2a2a33" stroke="#2a2a33" stroke-width="0.22" transform="translate(392.4 482.59999999999997) scale(0.82 1)" >O9</text>
<line x1="392.5" y1="442.6" x2="392.5" y2="471.4" stroke="#111" stroke-width="1.2" />
<text x="0" y="0" font-size="9.8" text-anchor="middle" fill="#2a2a33" stroke="#2a2a33" stroke-width="0.22" transform="translate(378.6 209.6) rotate(-90) scale(0.93 1)" >Hn240</text>
<text x="0" y="0" font-size="9.8" text-anchor="middle" fill="#2a2a33" stroke="#2a2a33" stroke-width="0.22" transform="translate(389.8 218.4) rotate(-90) scale(0.93 1)" >180</text>
<text x="0" y="0" font-size="9.8" text-anchor="middle" fill="#2a2a33" stroke="#2a2a33" stroke-width="0.22" transform="translate(399.8 218.1) rotate(-90) scale(0.93 1)" >120</text>
<text x="0" y="0" font-size="9.8" text-anchor="middle" fill="#2a2a33" stroke="#2a2a33" stroke-width="0.22" transform="translate(410.2 209.7) rotate(-90) scale(0.93 1)" >Hp120</text>
<text x="0" y="0" font-size="9.8" text-anchor="middle" fill="#2a2a33" stroke="#2a2a33" stroke-width="0.22" transform="translate(380.2 469.6) rotate(-90) scale(0.93 1)" >Hn240</text>
<text x="0" y="0" font-size="9.8" text-anchor="middle" fill="#2a2a33" stroke="#2a2a33" stroke-width="0.22" transform="translate(389.6 459.7) rotate(-90) scale(0.93 1)" >180</text>
<text x="0" y="0" font-size="9.8" text-anchor="middle" fill="#2a2a33" stroke="#2a2a33" stroke-width="0.22" transform="translate(400.0 459.8) rotate(-90) scale(0.93 1)" >120</text>
<text x="0" y="0" font-size="9.8" text-anchor="middle" fill="#2a2a33" stroke="#2a2a33" stroke-width="0.22" transform="translate(411.2 467.3) rotate(-90) scale(0.93 1)" >Hp120</text>
<path d="M504.6,322.2 L519.6,353.9 L520,334 Z" fill="#111"/>
<circle cx="519.6" cy="322.2" r="14" stroke="#111" stroke-width="1.1" fill="#fff"/>
<text x="0" y="0" font-size="14" text-anchor="middle" fill="#2a2a33" stroke="#2a2a33" stroke-width="0.3" transform="translate(520.0 327.0) scale(0.9 1)" >B-B</text>
<circle cx="437.7" cy="451.5" r="1.5" stroke="#111" stroke-width="1.6" fill="none"/>
<line x1="437.7" y1="453.0" x2="437.7" y2="455.1" stroke="#111" stroke-width="1.6" />
<line x1="434.7" y1="454.7" x2="440.7" y2="454.7" stroke="#111" stroke-width="1.4" />
<line x1="458.4" y1="444.5" x2="461.8" y2="444.5" stroke="#111" stroke-width="1.3" />
<line x1="458.4" y1="450.5" x2="461.8" y2="450.5" stroke="#111" stroke-width="1.3" />
<line x1="458.4" y1="456.5" x2="461.8" y2="456.5" stroke="#111" stroke-width="1.3" />
<line x1="136.5" y1="171.8" x2="136.5" y2="212.5" stroke="#8e3b3f" stroke-width="1" />
<line x1="136.5" y1="222" x2="136.5" y2="261.6" stroke="#8e3b3f" stroke-width="1" />
<line x1="136.5" y1="270.9" x2="136.5" y2="590" stroke="#8e3b3f" stroke-width="1" stroke-dasharray="38 3.5 3 3.5" stroke-dashoffset="0"/>
<polyline points="174.5,171.8 174.5,196.9 142.4,211.3 142.4,246.7" stroke="#8e3b3f" stroke-width="1" fill="none"/>
<line x1="142.5" y1="255.6" x2="142.5" y2="590" stroke="#8e3b3f" stroke-width="1" stroke-dasharray="38 3.5 3 3.5" stroke-dashoffset="26"/>
<line x1="274.5" y1="171.8" x2="274.5" y2="218" stroke="#8e3b3f" stroke-width="1" />
<line x1="274.5" y1="227.7" x2="274.5" y2="234.3" stroke="#8e3b3f" stroke-width="1" />
<line x1="274.5" y1="455.9" x2="274.5" y2="496" stroke="#8e3b3f" stroke-width="1" />
<line x1="274.5" y1="499.7" x2="274.5" y2="515.6" stroke="#8e3b3f" stroke-width="1" />
<line x1="274.5" y1="524.9" x2="274.5" y2="572.5" stroke="#8e3b3f" stroke-width="1" />
<line x1="342.5" y1="171.8" x2="342.5" y2="218" stroke="#8e3b3f" stroke-width="1" />
<line x1="342.5" y1="227.7" x2="342.5" y2="234.3" stroke="#8e3b3f" stroke-width="1" />
<line x1="342.5" y1="455.9" x2="342.5" y2="496" stroke="#8e3b3f" stroke-width="1" />
<line x1="342.5" y1="499.7" x2="342.5" y2="515.6" stroke="#8e3b3f" stroke-width="1" />
<line x1="342.5" y1="524.9" x2="342.5" y2="572.5" stroke="#8e3b3f" stroke-width="1" />
<line x1="274.5" y1="234.3" x2="274.5" y2="296.7" stroke="#c47a7d" stroke-width="1" />
<line x1="274.5" y1="375.8" x2="274.5" y2="448" stroke="#c47a7d" stroke-width="1" />
<line x1="342.5" y1="234.3" x2="342.5" y2="448" stroke="#c47a7d" stroke-width="1" />
<line x1="448.5" y1="171.8" x2="448.5" y2="218.7" stroke="#8e3b3f" stroke-width="1" />
<line x1="448.5" y1="458" x2="448.5" y2="494.9" stroke="#8e3b3f" stroke-width="1" />
<line x1="448.5" y1="504.2" x2="448.5" y2="516.4" stroke="#8e3b3f" stroke-width="1" />
<line x1="448.5" y1="525.7" x2="448.5" y2="572.2" stroke="#8e3b3f" stroke-width="1" />
<line x1="448.5" y1="238" x2="448.5" y2="448" stroke="#c47a7d" stroke-width="1" />
<polyline points="475,171.8 475,198.4 454.2,211.8 454.2,238" stroke="#8e3b3f" stroke-width="1" fill="none"/>
<line x1="454.5" y1="238" x2="454.5" y2="448" stroke="#c47a7d" stroke-width="1" />
<line x1="454.5" y1="458.6" x2="454.5" y2="472.6" stroke="#8e3b3f" stroke-width="1" />
<line x1="454.5" y1="476.3" x2="454.5" y2="516.4" stroke="#8e3b3f" stroke-width="1" />
<line x1="454.5" y1="524.7" x2="454.5" y2="574" stroke="#8e3b3f" stroke-width="1" />
<line x1="76" y1="240.5" x2="121" y2="240.5" stroke="#8e3b3f" stroke-width="1" />
<line x1="130.4" y1="240.5" x2="140.5" y2="240.5" stroke="#8e3b3f" stroke-width="1" />
<line x1="457.6" y1="240.5" x2="466.8" y2="240.5" stroke="#8e3b3f" stroke-width="1" />
<line x1="476.3" y1="240.5" x2="486.9" y2="240.5" stroke="#8e3b3f" stroke-width="1" />
<line x1="495.9" y1="240.5" x2="542.1" y2="240.5" stroke="#8e3b3f" stroke-width="1" />
<line x1="267.6" y1="240.5" x2="457.6" y2="240.5" stroke="#c47a7d" stroke-width="1" />
<line x1="149.1" y1="240.5" x2="267.6" y2="240.5" stroke="#8e3b3f" stroke-width="1" stroke-dasharray="40 10 10 11" stroke-dashoffset="0"/>
<line x1="76" y1="441.5" x2="120.6" y2="441.5" stroke="#8e3b3f" stroke-width="1" />
<line x1="130.4" y1="441.5" x2="140.5" y2="441.5" stroke="#8e3b3f" stroke-width="1" />
<line x1="457.6" y1="441.5" x2="466.8" y2="441.5" stroke="#8e3b3f" stroke-width="1" />
<line x1="476.3" y1="441.5" x2="486.9" y2="441.5" stroke="#8e3b3f" stroke-width="1" />
<line x1="495.9" y1="441.5" x2="542.1" y2="441.5" stroke="#8e3b3f" stroke-width="1" />
<line x1="267.6" y1="441.5" x2="457.6" y2="441.5" stroke="#c47a7d" stroke-width="1" />
<line x1="149.1" y1="441.5" x2="267.6" y2="441.5" stroke="#8e3b3f" stroke-width="1" stroke-dasharray="40 10 10 11" stroke-dashoffset="0"/>
</svg></body></html>
